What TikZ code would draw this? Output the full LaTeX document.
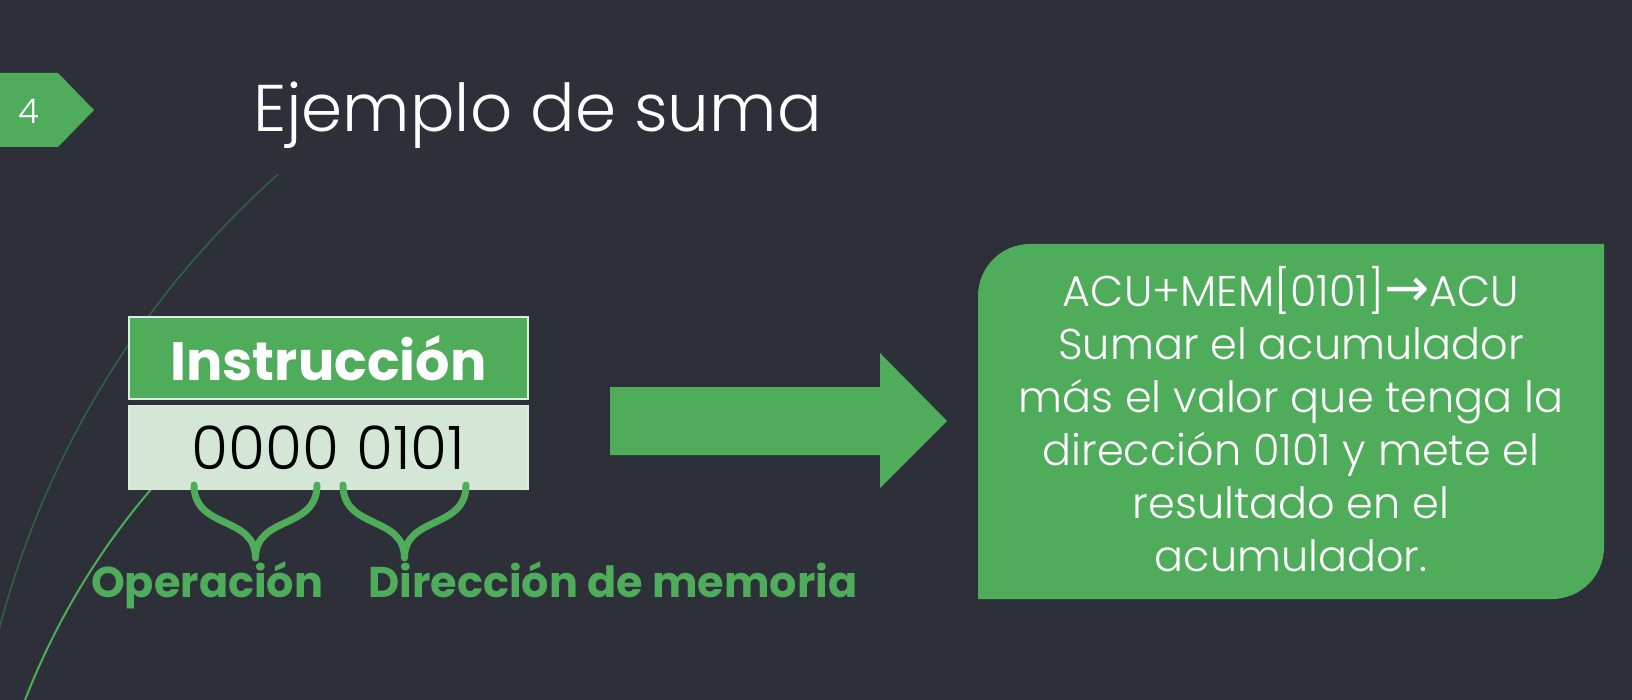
\documentclass[tikz,border=0pt]{standalone}
\usepackage{fontspec}
\setmainfont{Poppins}
\newfontfamily\ligera{Poppins Light}
\newfontfamily\flechas{DejaVu Sans}
\usetikzlibrary{positioning,calc}
\definecolor{fondo}{HTML}{2D3039}
\definecolor{verde}{HTML}{4EAC5B}
\definecolor{verdeclaro}{HTML}{D4E6D5}
\definecolor{verdeosc}{HTML}{2F6346}

\begin{document}
\begin{tikzpicture}[x=1pt, y=1pt, inner sep=0pt,
            cabecera/.style={fill=verde, draw=white!80!verde, line width=1.5pt,
              minimum width=399pt, minimum height=82pt, text=white,
              font=\fontsize{54}{54}\selectfont\bfseries},
            cuerpo/.style={fill=verdeclaro, draw=white!80!verde, line width=1.5pt,
              minimum width=399pt, minimum height=84pt, text=black,
              font=\ligera\fontsize{60}{60}\selectfont},
            etiqueta/.style={anchor=base west, text=verde,
              font=\fontsize{43}{43}\selectfont\bfseries},
            llave/.style={draw=verde, line width=7pt, line cap=round},
            blanco/.style={text=white, font=\ligera}
        ]
          \useasboundingbox (0,0) rectangle (1632,-700);
          \fill[fondo] (0,0) rectangle (1632,-700);
          \draw[verdeosc, line width=1.5pt] (891,-863) ++(131.65:922pt) arc (131.65:166:922pt);
          \draw[verde, line width=2pt] (710,-966.5) ++(132:735pt) arc (132:162:735pt);
          \fill[verde] (0,-73) -- (58,-73) -- (94,-110) -- (58,-147) -- (0,-147) -- cycle;
          \node[blanco, font=\ligera\fontsize{34}{34}\selectfont] (num) at (29,-111) {4};
          \node[blanco, anchor=base west, font=\ligera\fontsize{66}{66}\selectfont] (titulo) at (253,-132) {Ejemplo de suma};
          \node[cabecera] (instr) at (328.5,-358) {Instrucción};
          \node[cuerpo] (bin) [below=5pt of instr] {0000 0101};
          \coordinate (op-a) at (194,-485);
          \coordinate (op-b) at (317,-485);
          \coordinate (op-p) at (255.5,-558);
          \coordinate (dir-a) at (343,-485);
          \coordinate (dir-b) at (466,-485);
          \coordinate (dir-p) at (404.5,-558);
          \path[llave]
          (op-a) .. controls +(0,-45) and +(0,43) .. (op-p)
          (op-b) .. controls +(0,-45) and +(0,43) .. (op-p)
          (dir-a) .. controls +(0,-45) and +(0,43) .. (dir-p)
          (dir-b) .. controls +(0,-45) and +(0,43) .. (dir-p);
          \node[etiqueta] (oper) at (91,-597) {Operación};
          \node[etiqueta] (dir) at (368,-597) {Dirección de memoria};
          \fill[verde] (610,-387) -- (880,-387) -- (880,-353) -- (947,-421)
                -- (880,-488) -- (880,-455) -- (610,-455) -- cycle;
          \fill[verde] (978,-296) arc (180:90:52pt) -- (1604,-244) -- (1604,-547)
                arc (0:-90:52pt) -- (978,-599) -- cycle;
          \node[blanco, align=center, font=\ligera\fontsize{43}{53}\selectfont] (expl) at (1291,-419)
                {ACU+MEM[0101]{\flechas\fontsize{54}{53}\selectfont →}ACU\\Sumar el acumulador\\más el valor que tenga la\\dirección 0101 y mete el\\resultado en el\\acumulador.};
        \end{tikzpicture}
\end{document}
